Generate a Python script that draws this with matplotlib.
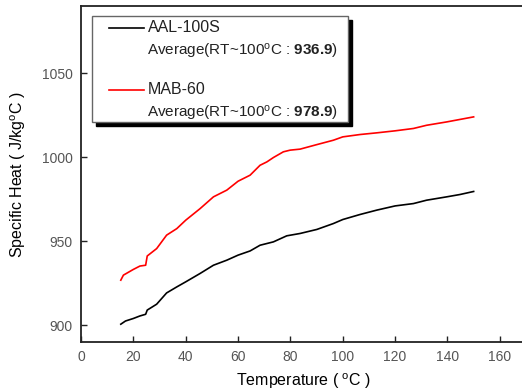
import matplotlib
matplotlib.use("Agg")
import matplotlib.pyplot as plt
from matplotlib.patches import Rectangle
from matplotlib.lines import Line2D

plt.rcParams['font.family'] = ['Liberation Sans', 'DejaVu Sans']
plt.rcParams['mathtext.fontset'] = 'custom'
plt.rcParams['mathtext.rm'] = 'Liberation Sans'
plt.rcParams['mathtext.bf'] = 'Liberation Sans:bold'
plt.rcParams['mathtext.it'] = 'Liberation Sans:italic'

# ---- data ----
aal_temp = [15.2, 17, 20, 22.5, 24.7, 25.3, 28.9, 32.7, 36.6, 40, 45.5, 50.6, 55.7, 60,
            64.6, 68.4, 73.5, 78.6, 83.7, 90.1, 96.4, 100, 106.6, 113, 120, 127, 132,
            139.7, 144.8, 150]
aal_cp = [900.6, 902.5, 904, 905.5, 906.5, 909.0, 912.5, 919.2, 922.8, 925.8, 930.8, 935.7,
          938.7, 941.7, 944.2, 947.6, 949.6, 953.2, 954.6, 957.0, 960.5, 962.9, 965.9,
          968.5, 971.0, 972.4, 974.4, 976.4, 977.8, 979.6]
mab_temp = [15.2, 16.2, 20, 22.5, 24.7, 25.3, 28.9, 32.7, 36.6, 40, 45.5, 50.6, 55.7, 60,
            64.6, 68.4, 71, 73.5, 77.3, 79.9, 83.7, 90.1, 96.4, 100, 106.6, 113, 120, 127,
            132, 139.7, 150]
mab_cp = [926.8, 929.8, 933.2, 935.2, 935.7, 941.2, 945.6, 953.6, 957.5, 962.5, 969.4, 976.4,
          980.4, 985.7, 989.3, 995.2, 997.2, 999.8, 1003.2, 1004.2, 1004.8, 1007.5, 1010.1,
          1012.1, 1013.5, 1014.5, 1015.7, 1017.1, 1019.0, 1021.0, 1024.0]
x_ticks = [0, 20, 40, 60, 80, 100, 120, 140, 160]
y_ticks = [900, 950, 1000, 1050]
series_names = ['AAL-100S', 'MAB-60']
averages = ['936.9', '978.9']

W, H = 522, 392
fig = plt.figure(figsize=(W / 100, H / 100), dpi=100)

def fx(px):
    return px / W

def fy(py):
    return 1 - py / H

left, right, top, bottom = 81, 526, 6, 342
ax = fig.add_axes([fx(left), fy(bottom), fx(right - left), (bottom - top) / H])
ax.plot(aal_temp, aal_cp, color='black', lw=1.2)
ax.plot(mab_temp, mab_cp, color='#ff0000', lw=1.2)
ax.set_xlim(0, 170)
ax.set_ylim(890, 1090)
ax.set_xticks(x_ticks)
ax.set_yticks(y_ticks)
ax.tick_params(direction='in', length=4, width=1, colors='#222222', labelcolor='#555555',
               labelsize=10, pad=6)
ax.tick_params(axis='x', pad=6)
for s in ax.spines.values():
    s.set_linewidth(1.3)
    s.set_color('#222222')
ax.set_xlabel('Temperature ( $^{\\mathrm{o}}$C )', fontsize=11.5, labelpad=5)
ax.set_ylabel('Specific Heat ( J/kg$^{\\mathrm{o}}$C )', fontsize=11.5, labelpad=10)

# legend box with shadow
bx0, by0, bx1, by1 = 92, 16, 348, 122
off = 4
fig.patches.append(Rectangle((fx(bx0 + off), fy(by1 + off)), fx(bx1 - bx0), (by1 - by0) / H,
                             transform=fig.transFigure, facecolor='black', edgecolor='black',
                             zorder=5))
fig.patches.append(Rectangle((fx(bx0), fy(by1)), fx(bx1 - bx0), (by1 - by0) / H,
                             transform=fig.transFigure, facecolor='white', edgecolor='#666666',
                             lw=1, zorder=6))
colors = ['black', '#ff0000']
rows = [(28, 51), (90, 113)]
for name, avg, c, (y1, y2) in zip(series_names, averages, colors, rows):
    fig.lines.append(Line2D([fx(109), fx(144)], [fy(y1), fy(y1)], transform=fig.transFigure,
                            color=c, lw=1.2, zorder=7))
    fig.text(fx(148), fy(y1), name, fontsize=11.5, va='center', ha='left', color='#222222',
             zorder=8)
    fig.text(fx(147), fy(y2), 'Average(RT~100$^{\\mathrm{o}}$C : $\\mathbf{' + avg + '}$)',
             fontsize=11, va='center', ha='left', color='#222222', zorder=8)

fig.savefig('out.png', dpi=100)
